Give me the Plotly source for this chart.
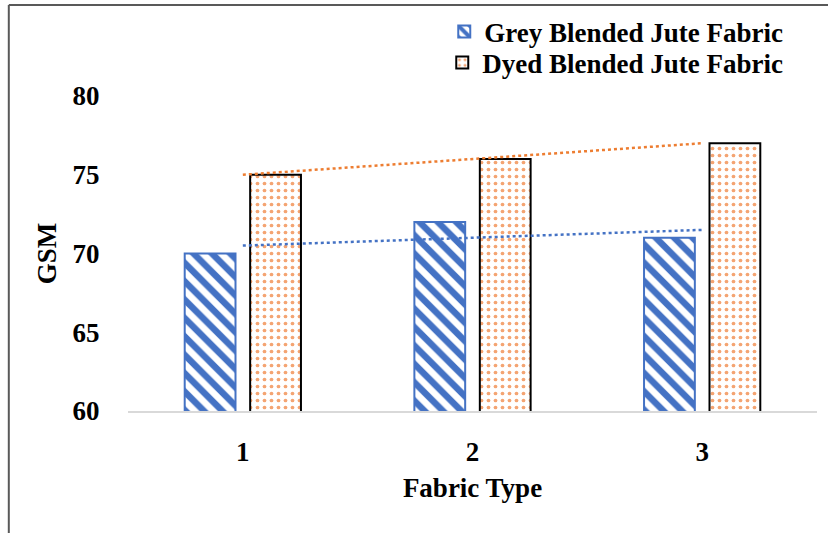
import numpy as np
import plotly.graph_objects as go

categories = ["1", "2", "3"]
grey_gsm = [70, 72, 71]
dyed_gsm = [75, 76, 77]
y_ticks = [60, 65, 70, 75, 80]

FONT = "Liberation Serif"
BLUE = "#4472C4"
ORANGE = "#ED7D31"
FS = 27
H = 533

x_idx = np.arange(len(categories), dtype=float)


def linear_trend(values):
    slope, intercept = np.polyfit(x_idx, np.asarray(values, float), 1)
    return slope * x_idx + intercept


fig = go.Figure()

fig.add_trace(go.Bar(
    x=x_idx, y=grey_gsm, name="Grey Blended Jute Fabric",
    legend="legend",
    marker=dict(
        color="white",
        line=dict(color=BLUE, width=2),
        pattern=dict(shape="\\", fgcolor=BLUE, bgcolor="white",
                     size=13, solidity=0.5, fillmode="replace"),
    ),
))
fig.add_trace(go.Bar(
    x=x_idx, y=dyed_gsm, name="Dyed Blended Jute Fabric",
    legend="legend2",
    marker=dict(
        color="white",
        line=dict(color="black", width=2),
        pattern=dict(shape=".", fgcolor="#F4A472", bgcolor="white",
                     size=7, solidity=0.22, fillmode="replace"),
    ),
))

# Excel-style linear trendlines
fig.add_trace(go.Scatter(
    x=x_idx, y=linear_trend(grey_gsm), mode="lines",
    line=dict(color=BLUE, width=2.5, dash="dot"),
    showlegend=False, hoverinfo="skip",
))
fig.add_trace(go.Scatter(
    x=x_idx, y=linear_trend(dyed_gsm), mode="lines",
    line=dict(color=ORANGE, width=2.5, dash="dot"),
    showlegend=False, hoverinfo="skip",
))

legend_common = dict(
    xref="container", yref="container",
    xanchor="right", yanchor="middle", x=0.952,
    font=dict(family=FONT, size=FS, color="black", weight="bold"),
    bgcolor="rgba(0,0,0,0)", itemwidth=30,
)

fig.update_layout(
    width=828, height=H,
    margin=dict(l=128, r=11, t=96, b=122, autoexpand=False),
    paper_bgcolor="white", plot_bgcolor="white",
    font=dict(family=FONT, size=FS, color="black"),
    barmode="group", bargap=0.43, bargroupgap=0.224,
    showlegend=True,
    legend=dict(y=1 - 32 / H, **legend_common),
    legend2=dict(y=1 - 63 / H, **legend_common),
    xaxis=dict(
        tickmode="array", tickvals=x_idx, ticktext=categories,
        range=[-0.5, 2.5], showgrid=False, zeroline=False,
        showline=True, linecolor="#D9D9D9", linewidth=2,
        ticks="outside", ticklen=16, tickcolor="rgba(0,0,0,0)",
        tickfont=dict(family=FONT, size=FS, weight="bold"),
        title=dict(text="<b>Fabric Type</b>", standoff=12,
                   font=dict(family=FONT, size=FS)),
    ),
    yaxis=dict(
        range=[60, 80], tickvals=y_ticks, showgrid=False, zeroline=False,
        showline=False,
        ticks="outside", ticklen=22, tickcolor="rgba(0,0,0,0)",
        tickfont=dict(family=FONT, size=FS, weight="bold"),
        title=dict(text="<b>GSM</b>", standoff=8,
                   font=dict(family=FONT, size=FS)),
    ),
    shapes=[
        dict(type="line", xref="paper", yref="paper",
             x0=-0.173, x1=1.03, y0=(411 - 5) / 315, y1=(411 - 5) / 315,
             line=dict(color="#595959", width=2)),
        dict(type="line", xref="paper", yref="paper",
             x0=-0.173, x1=-0.173, y0=(411 - 5) / 315, y1=-0.4,
             line=dict(color="#595959", width=2)),
    ],
)

fig.write_html("out.html")
